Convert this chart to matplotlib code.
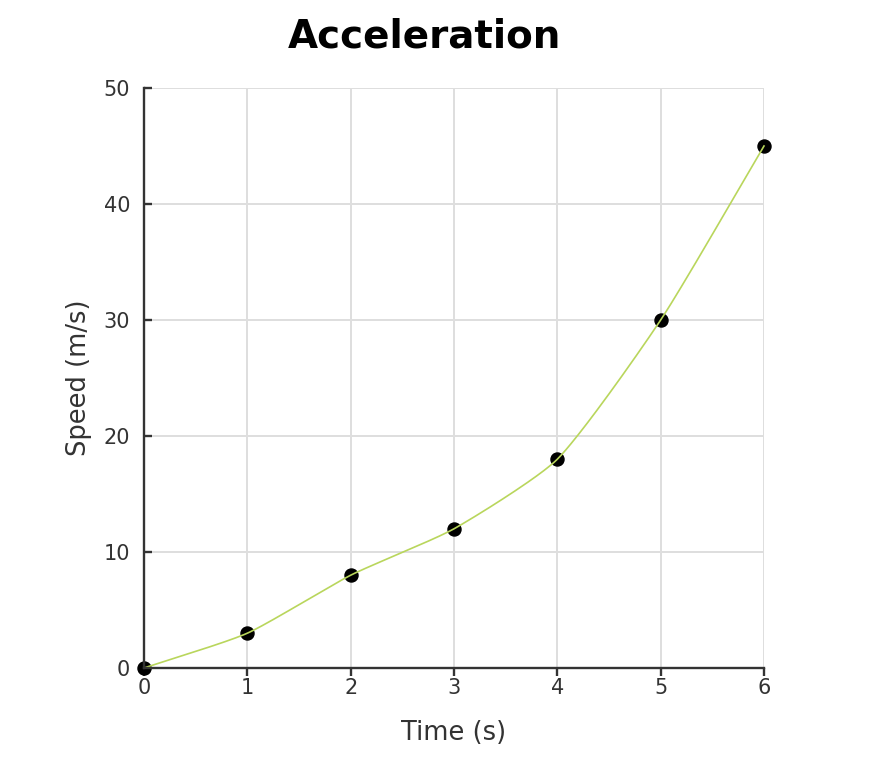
import numpy as np
import matplotlib
matplotlib.use("Agg")
import matplotlib.pyplot as plt

time_s = [0, 1, 2, 3, 4, 5, 6]
speed = [0, 3, 8, 12, 18, 30, 45]
x_ticks = [0, 1, 2, 3, 4, 5, 6]
y_ticks = [0, 10, 20, 30, 40, 50]


def spline_path(px, py, tension=0.4, n=40):
    """Chart.js-style cardinal bezier through points given in pixel space."""
    pts = np.column_stack([px, py]).astype(float)
    N = len(pts)
    prev_c = np.zeros_like(pts); next_c = np.zeros_like(pts)
    for i in range(N):
        p0 = pts[max(i - 1, 0)]; p1 = pts[i]; p2 = pts[min(i + 1, N - 1)]
        d01 = np.hypot(*(p1 - p0)); d12 = np.hypot(*(p2 - p1))
        tot = d01 + d12
        s01 = d01 / tot if tot else 0; s12 = d12 / tot if tot else 0
        fa = tension * s01; fb = tension * s12
        prev_c[i] = p1 - fa * (p2 - p0)
        next_c[i] = p1 + fb * (p2 - p0)
    out = []
    t = np.linspace(0, 1, n)[:, None]
    for i in range(N - 1):
        a, b, c, d = pts[i], next_c[i], prev_c[i + 1], pts[i + 1]
        seg = (1-t)**3*a + 3*(1-t)**2*t*b + 3*(1-t)*t**2*c + t**3*d
        out.append(seg)
    return np.vstack(out)


fig = plt.figure(figsize=(8.74, 7.6), dpi=100)
ax = fig.add_axes([144/874, 1-668/760, (764-144)/874, (668-88)/760])

ax.set_xlim(0, 6)
ax.set_ylim(0, 50)
ax.set_xticks(x_ticks)
ax.set_yticks(y_ticks)
ax.grid(True, color="#dedede", linewidth=1.4)
ax.set_axisbelow(True)

for s in ["top", "right"]:
    ax.spines[s].set_visible(False)
for s in ["left", "bottom"]:
    ax.spines[s].set_color("#333333")
    ax.spines[s].set_linewidth(1.7)
    ax.spines[s].set_zorder(5)

ax.tick_params(axis="x", direction="out", length=6, width=1.7, color="#333333",
               labelsize=15, labelcolor="#333333", pad=1)
ax.tick_params(axis="y", direction="in", length=6, width=1.7, color="#333333",
               labelsize=15, labelcolor="#333333", pad=10)

ax.scatter(time_s, speed, s=88, color="black", zorder=3, clip_on=False)

# smooth line computed in display space, mapped back to data space
disp = ax.transData.transform(np.column_stack([time_s, speed]))
curve_disp = spline_path(disp[:, 0], disp[:, 1], tension=0.2)
curve = ax.transData.inverted().transform(curve_disp)
ax.plot(curve[:, 0], curve[:, 1], color="#b9d65c", linewidth=1.2, zorder=4, clip_on=False)

ax.set_xlabel("Time (s)", fontsize=18.5, color="#333333", labelpad=16)
ax.set_ylabel("Speed (m/s)", fontsize=18.5, color="#333333", labelpad=8)
fig.text(424/874, 1-37/760, "Acceleration", ha="center", va="center",
         fontsize=28, fontweight="bold", color="black")

fig.savefig("out.png", dpi=100, facecolor="white")
